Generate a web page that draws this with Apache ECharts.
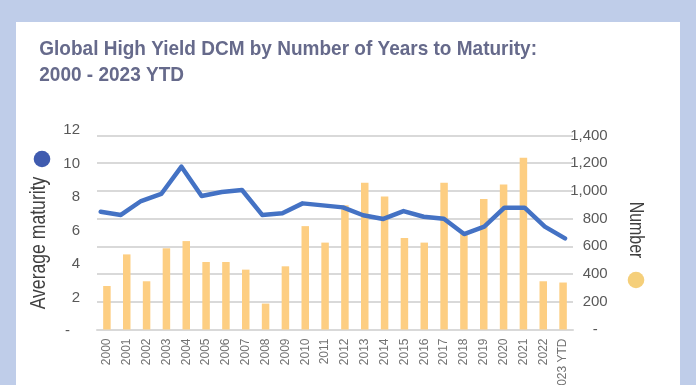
<!DOCTYPE html>
<html>
<head>
<meta charset="utf-8">
<script src="https://cdn.jsdelivr.net/npm/echarts@6/dist/echarts.min.js"></script>
<style>
html,body{margin:0;padding:0;background:#BFCDE9;}
#c{width:696px;height:385px;}
</style>
</head>
<body>
<div id="c"></div>
<script>
const years = ['2000','2001','2002','2003','2004','2005','2006','2007','2008','2009','2010','2011','2012','2013','2014','2015','2016','2017','2018','2019','2020','2021','2022','2023 YTD'];
const numberOfDeals = [314, 542, 348, 586, 638, 487, 487, 432, 187, 456, 746, 627, 896, 1059, 960, 660, 627, 1059, 692, 941, 1047, 1239, 348, 339];
const avgMaturity = [7.12, 6.93, 7.76, 8.18, 9.81, 8.06, 8.30, 8.42, 6.93, 7.03, 7.62, 7.50, 7.38, 6.91, 6.69, 7.16, 6.82, 6.70, 5.79, 6.23, 7.36, 7.36, 6.23, 5.53];
const leftTicks = [0, 2, 4, 6, 8, 10, 12];
const rightTicks = [0, 200, 400, 600, 800, 1000, 1200, 1400];
const titleLines = ['Global High Yield DCM by Number of Years to Maturity:', '2000 - 2023 YTD'];
const leftName = 'Average maturity';
const rightName = 'Number';

const sans = '"Liberation Sans", Arial, sans-serif';
const ctx = document.createElement('canvas').getContext('2d');
function widthOf(text, font) { ctx.font = font; return ctx.measureText(text).width; }

const titleFont = 'bold 21px ' + sans;
const titleScale = 497.7 / widthOf(titleLines[0], titleFont);
const leftNameFont = '22px ' + sans;
const leftNameScale = 132.7 / widthOf(leftName, leftNameFont);
const rightNameFont = '21px ' + sans;
const rightNameScale = 56.7 / widthOf(rightName, rightNameFont);

const chart = echarts.init(document.getElementById('c'), null, {renderer: 'canvas'});
chart.setOption({
  backgroundColor: '#BFCDE9',
  animation: false,
  graphic: [
    {type: 'rect', z: -10, shape: {x: 16, y: 22, width: 664, height: 380}, style: {fill: '#ffffff'}},
    {type: 'text', x: 39.3, y: 49.1, scaleX: titleScale,
      style: {text: titleLines[0], font: titleFont, fill: '#666A8B', align: 'left', verticalAlign: 'middle'}},
    {type: 'text', x: 39.3, y: 75.3, scaleX: titleScale,
      style: {text: titleLines[1], font: titleFont, fill: '#666A8B', align: 'left', verticalAlign: 'middle'}},
    {type: 'circle', shape: {cx: 42, cy: 159, r: 8.3}, style: {fill: '#3F5BAF'}},
    {type: 'circle', shape: {cx: 636, cy: 280, r: 8.3}, style: {fill: '#F5CF7A'}},
    {type: 'text', x: 38.7, y: 243, rotation: Math.PI / 2, scaleX: leftNameScale,
      style: {text: leftName, font: leftNameFont, fill: '#404040', align: 'center', verticalAlign: 'middle'}},
    {type: 'text', x: 635.8, y: 230, rotation: -Math.PI / 2, scaleX: rightNameScale,
      style: {text: rightName, font: rightNameFont, fill: '#404040', align: 'center', verticalAlign: 'middle'}}
  ],
  grid: [
    {left: 97, right: 123, top: 135.5, height: 194, outerBoundsMode: 'none', containLabel: false},
    {left: 100.7, right: 131, top: 130, height: 201, outerBoundsMode: 'none', containLabel: false}
  ],
  xAxis: [
    {type: 'category', gridIndex: 0, data: years,
      axisLine: {lineStyle: {color: '#D9D9D9', width: 2}},
      axisTick: {show: false},
      axisLabel: {rotate: 90, fontSize: 12, color: '#737373', fontFamily: sans, margin: 9, interval: 0}},
    {type: 'category', gridIndex: 1, data: years, boundaryGap: false, show: false}
  ],
  yAxis: [
    {type: 'value', gridIndex: 0, position: 'right', min: rightTicks[0], max: rightTicks[rightTicks.length - 1], interval: 200,
      axisLine: {show: false}, axisTick: {show: false},
      splitLine: {lineStyle: {color: '#D9D9D9', width: 2}},
      axisLabel: {align: 'right', margin: 34.7, fontSize: 15, color: '#595959', fontFamily: sans,
        formatter: v => v === 0 ? '{d|-}' : v.toLocaleString('en-US'),
        rich: {d: {fontSize: 15, color: '#595959', padding: [0, 10, 0, 0]}}}},
    {type: 'value', gridIndex: 1, position: 'left', min: leftTicks[0], max: leftTicks[leftTicks.length - 1], interval: 2,
      axisLine: {show: false}, axisTick: {show: false}, splitLine: {show: false},
      axisLabel: {margin: 20.7, fontSize: 15, color: '#595959', fontFamily: sans,
        formatter: v => v === 0 ? '{d|-}' : String(v),
        rich: {d: {fontSize: 15, color: '#595959', padding: [0, 10, 0, 0]}}}}
  ],
  series: [
    {type: 'bar', xAxisIndex: 0, yAxisIndex: 0, data: numberOfDeals, barWidth: 7.5,
      itemStyle: {color: '#FDCE82'}, z: 2},
    {type: 'line', xAxisIndex: 1, yAxisIndex: 1, data: avgMaturity, symbol: 'none',
      lineStyle: {color: '#4472C4', width: 4.5, join: 'round', cap: 'round'}, z: 5}
  ]
});
</script>
</body>
</html>
